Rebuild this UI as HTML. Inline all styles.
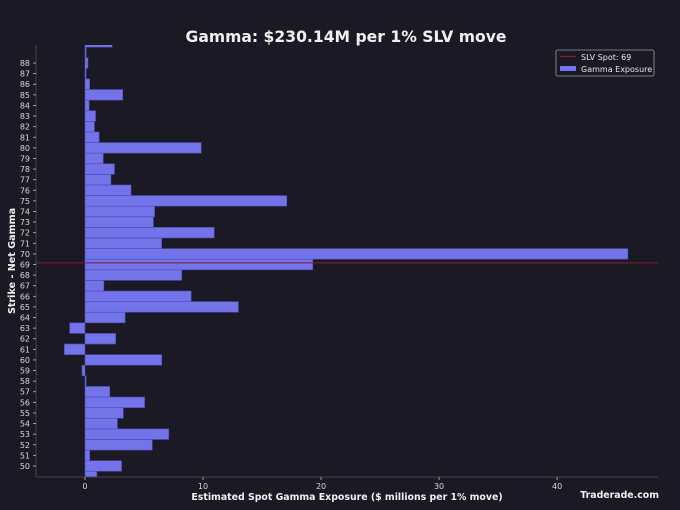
<!DOCTYPE html>
<html><head><meta charset="utf-8"><style>
html,body{margin:0;padding:0;background:#1b1a24;}
svg{display:block;font-family:"DejaVu Sans","Liberation Sans",sans-serif;}
</style></head><body>
<svg id="chart" width="680" height="510" xmlns="http://www.w3.org/2000/svg">
<rect x="0" y="0" width="680" height="510" fill="#1b1a24"/>
<text x="346" y="42" text-anchor="middle" fill="#f0f0f0" font-size="15.6" font-weight="bold">Gamma: $230.14M per 1% SLV move</text>
<g id="bars"></g>
<g id="axes"></g>
<text x="15" y="261" transform="rotate(-90 15 261)" text-anchor="middle" fill="#f0f0f0" font-size="9.6" font-weight="bold">Strike - Net Gamma</text>
<text x="347" y="500" text-anchor="middle" fill="#f0f0f0" font-size="9.4" font-weight="bold">Estimated Spot Gamma Exposure ($ millions per 1% move)</text>
<text x="659" y="498" text-anchor="end" fill="#f0f0f0" font-size="9.4" font-weight="bold">Traderade.com</text>
<g>
<rect x="556" y="50" width="98" height="26" rx="2" fill="#1b1a24" stroke="#9a9aa0" stroke-width="0.8"/>
<line x1="560" y1="56.5" x2="576" y2="56.5" stroke="#8b1a2a" stroke-width="1.2"/>
<text x="581" y="60" fill="#e8e8e8" font-size="8">SLV Spot: 69</text>
<rect x="560" y="66" width="16" height="5" fill="#7373ea"/>
<text x="581" y="72" fill="#e8e8e8" font-size="8">Gamma Exposure</text>
</g>
</svg>
<script>
const strikes=[49,50,51,52,53,54,55,56,57,58,59,60,61,62,63,64,65,66,67,68,69,70,71,72,73,74,75,76,77,78,79,80,81,82,83,84,85,86,87,88,89,90];
const gammaValues=[1.0,3.1,0.4,5.7,7.1,2.75,3.25,5.05,2.1,0.1,-0.25,6.5,-1.75,2.6,-1.3,3.4,13.0,9.0,1.6,8.2,19.3,46.0,6.5,10.95,5.8,5.9,17.1,3.9,2.2,2.5,1.55,9.85,1.2,0.8,0.9,0.35,3.2,0.4,0.1,0.25,0.1,2.3];
const spotPrice=69.15;
const xTicks=[0,10,20,30,40];
const yTicks=[50,51,52,53,54,55,56,57,58,59,60,61,62,63,64,65,66,67,68,69,70,71,72,73,74,75,76,77,78,79,80,81,82,83,84,85,86,87,88];

const L=36,R=658,T=45,B=477;
const xMin=-4.15,xMax=48.55,yMin=48.96,yMax=89.7;
const xs=v=>L+(v-xMin)/(xMax-xMin)*(R-L);
const ys=v=>B-(v-yMin)/(yMax-yMin)*(B-T);
const NS="http://www.w3.org/2000/svg";
const bars=document.getElementById('bars');
const axes=document.getElementById('axes');
function mk(tag,attrs,parent){const e=document.createElementNS(NS,tag);for(const k in attrs)e.setAttribute(k,attrs[k]);parent.appendChild(e);return e;}
const clip=mk('clipPath',{id:'pc'},document.getElementById('chart'));
mk('rect',{x:L,y:T,width:R-L,height:B-T},clip);
bars.setAttribute('clip-path','url(#pc)');
strikes.forEach((s,i)=>{
  const v=gammaValues[i];
  const y0=ys(s+0.5),y1=ys(s-0.5);
  const x0=xs(Math.min(0,v)),x1=xs(Math.max(0,v));
  const r=mk('rect',{x:x0,y:y0,width:Math.max(x1-x0,0.6),height:y1-y0,fill:'#7373ea',stroke:'#4d4db0','stroke-width':0.6},bars);
  
  
});
const sl=mk('line',{x1:L,x2:R,y1:ys(spotPrice),y2:ys(spotPrice),stroke:'#8b1a2a','stroke-width':1},bars);


const ls=mk('line',{x1:L,x2:L,y1:T,y2:B,stroke:'#44434e','stroke-width':1},axes);


const bs=mk('line',{x1:L,x2:R,y1:B,y2:B,stroke:'#44434e','stroke-width':1},axes);


xTicks.forEach(t=>{
  const x=xs(t);
  mk('line',{x1:x,x2:x,y1:B,y2:B+3,stroke:'#bbb','stroke-width':0.8},axes);
  const tx=mk('text',{x:x,y:B+12,'text-anchor':'middle',fill:'#d8d8d8','font-size':8},axes);
  tx.textContent=t;
  
  
});
yTicks.forEach(t=>{
  const y=ys(t);
  mk('line',{x1:L-3,x2:L,y1:y,y2:y,stroke:'#bbb','stroke-width':0.8},axes);
  const tx=mk('text',{x:L-6,y:y+3,'text-anchor':'end',fill:'#d8d8d8','font-size':8},axes);
  tx.textContent=t;
  
  
});
</script>
</body></html>
